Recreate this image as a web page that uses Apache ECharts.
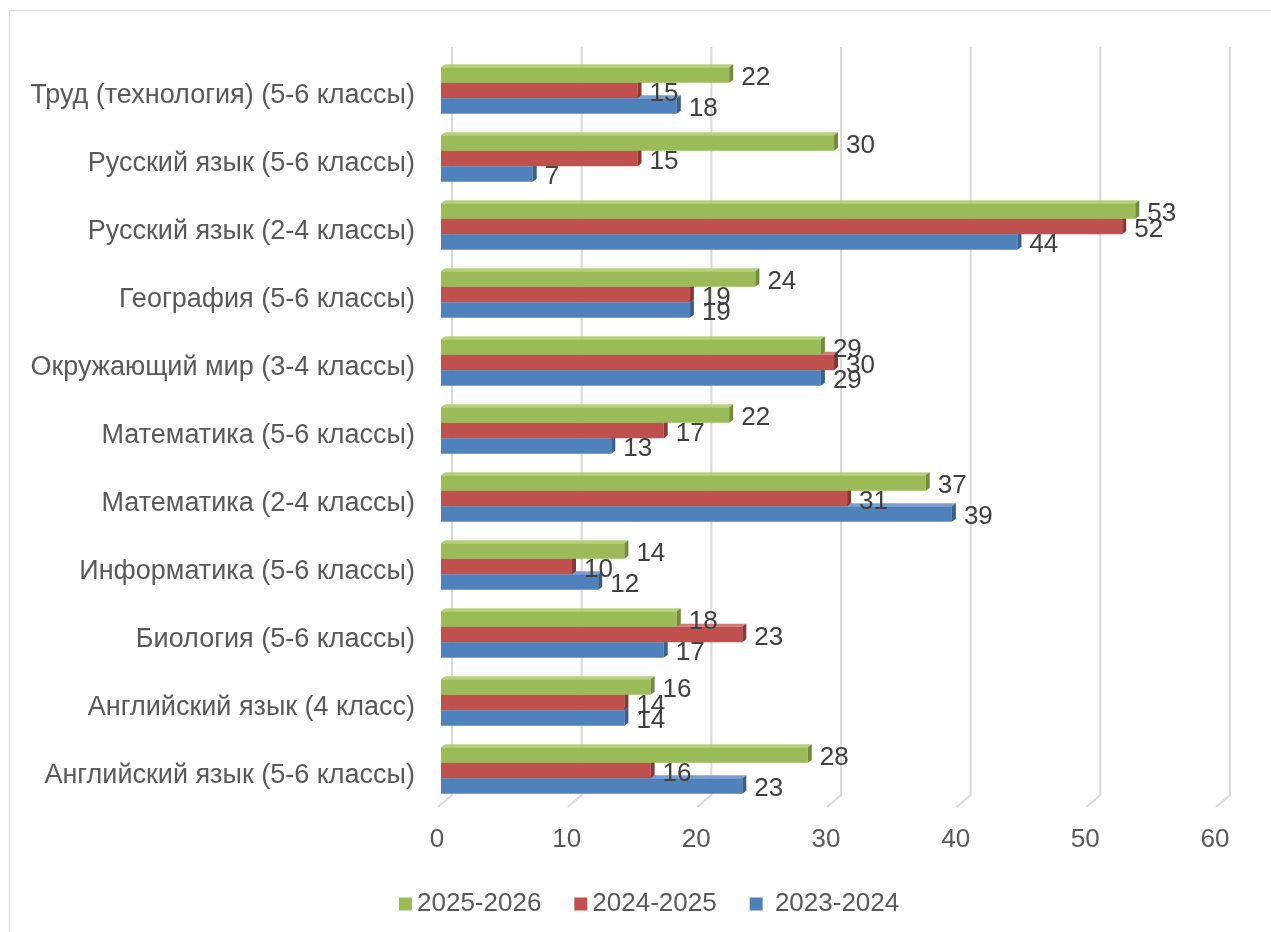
<!DOCTYPE html>
<html>
<head>
<meta charset="utf-8">
<script src="https://cdn.jsdelivr.net/npm/echarts@6/dist/echarts.min.js"></script>
<style>
  html, body { margin: 0; padding: 0; background: #ffffff; }
  #chart { width: 1271px; height: 932px; }
</style>
</head>
<body>
<div id="chart"></div>
<script>
// Categories listed bottom to top (as on the value axis of a horizontal bar chart)
const categories = [
  'Английский язык (5-6 классы)',
  'Английский язык (4 класс)',
  'Биология (5-6 классы)',
  'Информатика (5-6 классы)',
  'Математика (2-4 классы)',
  'Математика (5-6 классы)',
  'Окружающий мир (3-4 классы)',
  'География (5-6 классы)',
  'Русский язык (2-4 классы)',
  'Русский язык (5-6 классы)',
  'Труд (технология) (5-6 классы)'
];
const values2023 = [23, 14, 17, 12, 39, 13, 29, 19, 44, 7, 18];
const values2024 = [16, 14, 23, 10, 31, 17, 30, 19, 52, 15, 15];
const values2025 = [28, 16, 18, 14, 37, 22, 29, 24, 53, 30, 22];
const seriesNames = [' 2023-2024', '2024-2025', '2025-2026'];
const xTicks = [0, 10, 20, 30, 40, 50, 60];

const palette = [
  { front: '#4F81BD', side: '#38608f', top: '#7a9fcf' },
  { front: '#C0504D', side: '#8e3633', top: '#d27a78' },
  { front: '#9BBB59', side: '#728c3c', top: '#b6d07f' }
];
// slot from top within a category band: green 0, red 1, blue 2
const slots = [2, 1, 0];
const FONT = '"Liberation Sans", Arial, sans-serif';

function makeBarRender(si) {
  return function (params, api) {
    const v = api.value(0);
    const cat = api.value(1);
    const p0 = api.coord([0, cat]);
    const p1 = api.coord([v, cat]);
    const band = api.size([0, 1])[1];
    const barH = band * 0.228;
    const frontTop = p0[1] - 1.5 * barH + 1.5 + slots[si] * barH;
    const frontBot = frontTop + barH;
    const x0 = p0[0], x1 = p1[0];
    const dx = 4, dy = 3;
    const c = palette[si];
    return {
      type: 'group',
      children: [
        { type: 'polygon', shape: { points: [[x0, frontTop], [x0 + dx, frontTop - dy], [x1 + dx, frontTop - dy], [x1, frontTop]] },
          style: { fill: c.top } },
        { type: 'rect', shape: { x: x0, y: frontTop, width: x1 - x0, height: barH },
          style: { fill: c.front } },
        { type: 'polygon', shape: { points: [[x1, frontTop], [x1 + dx, frontTop - dy], [x1 + dx, frontBot - dy], [x1, frontBot]] },
          style: { fill: c.side } },
        { type: 'text', x: x1 + dx + 8, y: (frontTop + frontBot) / 2 + 3,
          style: { text: String(v), fill: '#404040', font: '26px ' + FONT, align: 'left', verticalAlign: 'middle' } }
      ]
    };
  };
}

function barData(arr) {
  return arr.map((v, i) => [v, i]);
}

const barSeries = [values2023, values2024, values2025].map((arr, si) => ({
  name: seriesNames[si],
  type: 'custom',
  xAxisIndex: 0,
  yAxisIndex: 0,
  coordinateSystem: 'cartesian2d',
  renderItem: makeBarRender(si),
  encode: { x: 0, y: 1 },
  data: barData(arr),
  itemStyle: { color: palette[si].front },
  clip: false,
  z: 3 + si
}));

const gridSeries = {
  type: 'custom',
  xAxisIndex: 1,
  yAxisIndex: 1,
  coordinateSystem: 'cartesian2d',
  silent: true,
  clip: false,
  z: 1,
  encode: { x: 0, y: 1 },
  data: xTicks.map(t => [t, 0]),
  renderItem: function (params, api) {
    const x = api.coord([api.value(0), 0])[0];
    const top = params.coordSys.y;
    const bot = top + params.coordSys.height;
    return {
      type: 'polyline',
      shape: { points: [[x, top], [x, bot], [x - 14, bot + 12]] },
      style: { stroke: '#d9d9d9', lineWidth: 2, fill: null }
    };
  }
};

const chart = echarts.init(document.getElementById('chart'), null, { renderer: 'canvas' });
chart.setOption({
  animation: false,
  backgroundColor: '#ffffff',
  textStyle: { fontFamily: FONT },
  graphic: [
    { type: 'rect', shape: { x: 9.5, y: 10.5, width: 1300, height: 960 },
      style: { fill: null, stroke: '#d9d9d9', lineWidth: 1.2 }, silent: true, z: 0 }
  ],
  legend: {
    data: ['2025-2026', '2024-2025', ' 2023-2024'],
    left: 394,
    top: 886,
    icon: 'rect',
    itemWidth: 13,
    itemHeight: 13,
    itemGap: 33,
    textStyle: { fontSize: 26, color: '#595959', fontFamily: FONT },
    selectedMode: false
  },
  grid: [
    { left: 441, width: 786, top: 55, height: 748, containLabel: false },
    { left: 452, width: 778, top: 47, height: 748, containLabel: false }
  ],
  xAxis: [
    { gridIndex: 0, type: 'value', min: 0, max: 60, interval: 10, show: false },
    { gridIndex: 1, type: 'value', min: 0, max: 60, interval: 10,
      axisLine: { show: false }, axisTick: { show: false }, splitLine: { show: false },
      axisLabel: { fontSize: 26, color: '#595959', margin: 32, padding: [0, 30, 0, 0], fontFamily: FONT } }
  ],
  yAxis: [
    { gridIndex: 0, type: 'category', data: categories,
      axisLine: { show: false }, axisTick: { show: false }, splitLine: { show: false },
      axisLabel: {
        margin: 26,
        formatter: v => '{c|' + v + '}',
        rich: { c: { fontSize: 27, color: '#595959', fontFamily: FONT, padding: [14, 0, 0, 0] } }
      } },
    { gridIndex: 1, type: 'value', min: 0, max: 1, show: false }
  ],
  series: [gridSeries].concat(barSeries)
});
</script>
</body>
</html>
